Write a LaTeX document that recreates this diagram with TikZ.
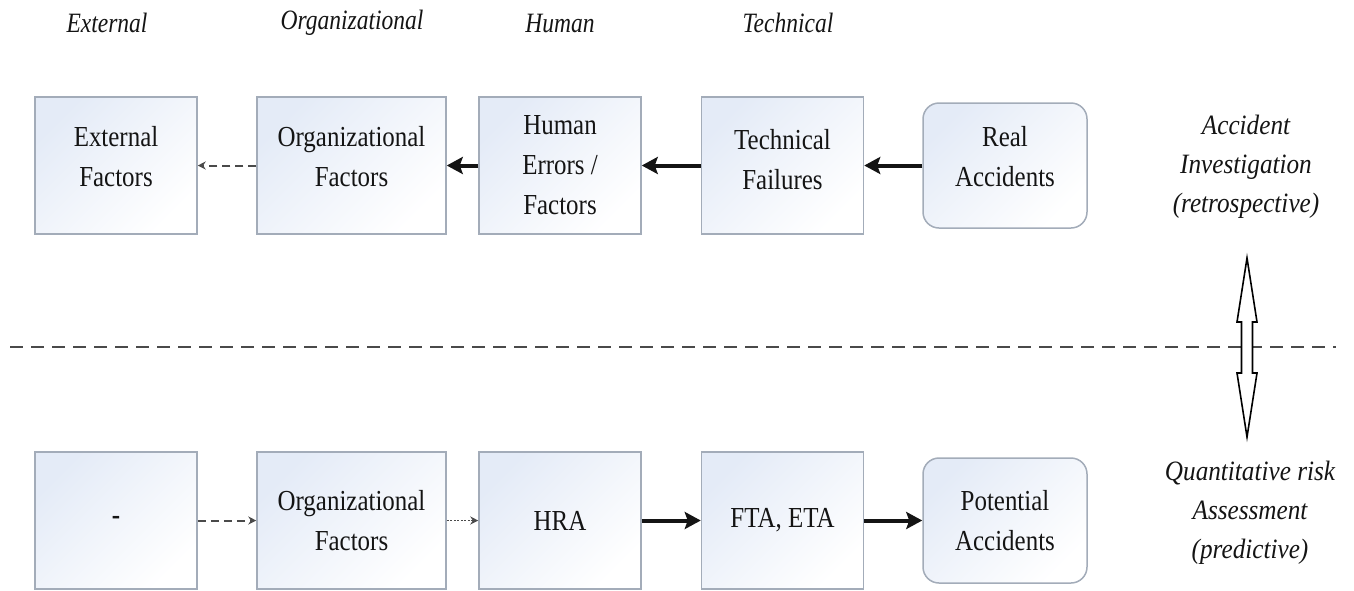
\documentclass[tikz,border=0pt]{standalone}
\usepackage{fontspec}
\setmainfont{Liberation Serif}
\newfontfamily\boxfont[FakeStretch=0.86]{Liberation Serif}
\newfontfamily\notefont[FakeStretch=0.84]{Liberation Serif}
\newfontfamily\sidefont[FakeStretch=0.9]{Liberation Serif}
\usetikzlibrary{arrows.meta}
\definecolor{boxline}{HTML}{A3ACB9}
\definecolor{boxtint}{HTML}{E4EBF7}
\definecolor{ink}{HTML}{141414}
\definecolor{sepline}{HTML}{4A4A4A}
\tikzset{
  box/.style={draw=boxline, line width=1.5pt, left color=boxtint, right color=white,
    shading angle=45, minimum width=162pt, minimum height=137pt, inner sep=0pt, align=center,
    text=ink, font=\boxfont\fontsize{29}{40}\selectfont},
  wide/.style={minimum width=189pt},
  lift/.style={text depth=19pt},
  roundbox/.style={box, rounded corners=16pt, minimum width=164pt, minimum height=125pt},
  header/.style={text=ink, font=\notefont\itshape\fontsize{28}{34}\selectfont, inner sep=0pt},
  sidenote/.style={text=ink, align=center, inner sep=0pt,
    font=\sidefont\itshape\fontsize{28}{39}\selectfont},
  strong/.style={draw=ink, line width=4pt, -{Stealth[length=16pt,width=17pt,inset=3pt]}},
  weakdash/.style={draw=sepline, line width=2pt, dash pattern=on 8pt off 5pt,
    -{Stealth[length=8pt,width=8pt]}},
  weakdot/.style={draw=sepline, line width=1.8pt, dash pattern=on 2pt off 1.5pt,
    -{Stealth[length=8pt,width=8pt]}},
  divider/.style={draw=sepline, line width=1.8pt, dash pattern=on 13pt off 8pt},
  twoway/.style={draw=black, line width=1.6pt, fill=white, line join=miter}
}
\begin{document}
\begin{tikzpicture}[x=1pt, y=-1pt]
\useasboundingbox (0,0) rectangle (1354,590);

% column headings
\node[header] (hExt) at (107,23) {External};
\node[header] (hOrg) at (352,23) {Organizational};
\node[header] (hHum) at (560,23) {Human};
\node[header] (hTec) at (788,23) {Technical};

% retrospective chain
\node[box, lift] (ext) at (116,165.5) {External\\Factors};
\node[box, wide, lift] (org) at (351.5,165.5) {Organizational\\Factors};
\node[box] (hum) at (560,165.5) {Human\\Errors /\\Factors};
\node[box, text depth=13pt] (tec) at (782.5,165.5) {Technical\\Failures};
\node[roundbox, lift] (real) at (1005,165.5) {Real\\Accidents};

\draw[weakdash] (org) -- (ext);
\draw[strong] (hum) -- (org);
\draw[strong] (tec) -- (hum);
\draw[strong] (real) -- (tec);

% predictive chain
\node[box] (none) at (116,520.5) {\textbf{-}};
\node[box, wide] (org2) at (351.5,520.5) {Organizational\\Factors};
\node[box] (hra) at (560,520.5) {HRA};
\node[box] (fta) at (782.5,520.5) {FTA, ETA};
\node[roundbox] (pot) at (1005,520.5) {Potential\\Accidents};

\draw[weakdash] (none) -- (org2);
\draw[weakdot] (org2) -- (hra);
\draw[strong] (hra) -- (fta);
\draw[strong] (fta) -- (pot);

% side notes
\node[sidenote] (inv) at (1246,167) {Accident\\Investigation\\(retrospective)};
\node[sidenote] (qra) at (1250,513) {Quantitative risk\\Assessment\\(predictive)};

% divider between the two views
\coordinate (dL) at (10,347);
\coordinate (dR) at (1336,347);
\draw[divider] (dL) -- (dR);

% two-way arrow linking the views
\coordinate (up) at (1247,258);
\coordinate (dn) at (1247,437);
\draw[twoway] (up) -- ++(10,64) -- ++(-4.5,0) -- ++(0,51) -- ++(4.5,0)
  -- (dn) -- ++(-10,-64) -- ++(4.5,0) -- ++(0,-51) -- ++(-4.5,0) -- cycle;
\end{tikzpicture}
\end{document}
